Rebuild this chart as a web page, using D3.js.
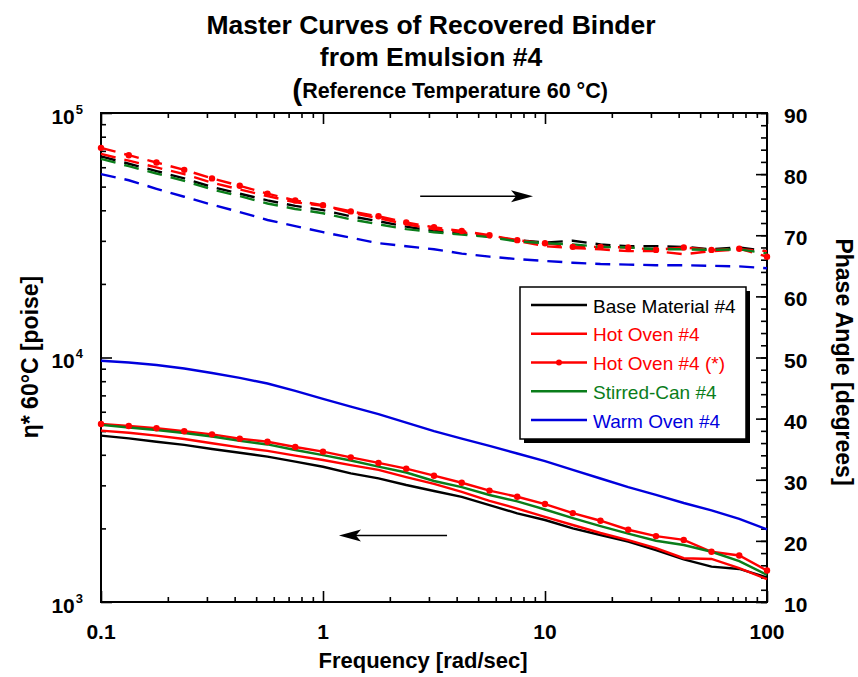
<!DOCTYPE html>
<html>
  <head>
    <style>
      body { margin: 0; background: #fff; }
      svg { font-family: "Liberation Sans", Arial, Helvetica, sans-serif; }
    </style>
  </head>
  <body>
    <svg></svg>
    <script src="https://d3js.org/d3.v7.min.js"></script>
    <script type="text/javascript">

      // frequencies [rad/sec], 8 points per decade
      var freq = [0.1, 0.1334, 0.1778, 0.2371, 0.3162, 0.4217, 0.5623, 0.7499, 1, 1.334, 1.778, 2.371,
                  3.162, 4.217, 5.623, 7.499, 10, 13.34, 17.78, 23.71, 31.62, 42.17, 56.23, 74.99, 100];

      // complex viscosity eta* at 60 C [poise]
      var baseEta    = [4790, 4670, 4525, 4390, 4225, 4080, 3930, 3750, 3575, 3360, 3205, 3010, 2845, 2690, 2490, 2305, 2165, 2000, 1880, 1765, 1630, 1495, 1395, 1365, 1260];
      var hotEta     = [5020, 4925, 4790, 4640, 4460, 4290, 4150, 3970, 3810, 3630, 3470, 3240, 3040, 2820, 2590, 2410, 2230, 2065, 1915, 1790, 1660, 1510, 1500, 1375, 1240];
      var hotStarEta = [5345, 5245, 5135, 4990, 4850, 4655, 4525, 4305, 4120, 3905, 3705, 3510, 3285, 3075, 2855, 2695, 2515, 2310, 2150, 1975, 1860, 1795, 1605, 1550, 1345];
      var stirredEta = [5300, 5170, 5050, 4910, 4750, 4560, 4410, 4185, 3990, 3790, 3580, 3385, 3125, 2950, 2740, 2580, 2390, 2205, 2045, 1905, 1780, 1710, 1605, 1470, 1290];
      var warmEta    = [9700, 9540, 9320, 9020, 8640, 8250, 7830, 7300, 6770, 6300, 5870, 5420, 5000, 4660, 4350, 4050, 3770, 3470, 3200, 2950, 2740, 2540, 2370, 2190, 1980];

      // phase angle [degrees]
      var basePhase    = [82.9, 81.7, 80.5, 79.3, 77.9, 76.8, 75.7, 74.8, 74.1, 73.1, 72.3, 71.4, 70.7, 70.3, 69.8, 69.2, 68.8, 69.1, 68.5, 68.2, 68.2, 68.1, 67.7, 68.0, 67.4];
      var hotPhase     = [83.3, 82.2, 81.1, 80.0, 78.6, 77.5, 76.4, 75.4, 74.8, 73.7, 72.8, 71.8, 71.0, 70.5, 69.9, 69.1, 68.2, 67.9, 67.7, 67.4, 67.4, 66.9, 67.4, 67.7, 67.4];
      var hotStarPhase = [84.3, 83.1, 81.9, 80.7, 79.3, 78.1, 76.8, 75.7, 74.9, 73.9, 73.1, 72.1, 71.3, 70.7, 70.0, 69.2, 68.7, 68.1, 68.1, 68.0, 67.6, 68.0, 67.6, 67.8, 66.5];
      var stirredPhase = [82.5, 81.3, 80.1, 78.9, 77.5, 76.4, 75.2, 74.3, 73.6, 72.6, 71.8, 71.0, 70.5, 70.1, 69.7, 69.0, 68.7, 68.5, 68.1, 68.0, 67.7, 67.7, 67.6, 67.7, 67.0];
      var warmPhase    = [80.0, 79.0, 77.6, 76.3, 75.0, 73.8, 72.5, 71.5, 70.5, 69.6, 68.7, 68.2, 67.7, 67.0, 66.5, 66.1, 65.8, 65.5, 65.3, 65.2, 65.1, 65.1, 65.0, 64.9, 64.6];

      var seriesNames = ["Base Material #4", "Hot Oven #4", "Hot Oven #4 (*)", "Stirred-Can #4", "Warm Oven #4"];
      var seriesColors = ["#000000", "#ff0000", "#ff0000", "#0a7d1a", "#0000dd"];

      var xTicks = [0.1, 1, 10, 100];
      var xTickLabels = ["0.1", "1", "10", "100"];
      var leftTicks = [1e3, 1e4, 1e5];
      var leftTickExp = ["3", "4", "5"];
      var rightTicks = [10, 20, 30, 40, 50, 60, 70, 80, 90];

      var svgWidth = 858, svgHeight = 677;
      var plot = { left: 101, right: 767, top: 113, bottom: 602 };

      var svg = d3.select("svg")
        .attr("width", svgWidth)
        .attr("height", svgHeight)

      var x = d3.scaleLog().domain([0.1, 100]).range([plot.left, plot.right])
      var yL = d3.scaleLog().domain([1e3, 1e5]).range([plot.bottom, plot.top])
      var yR = d3.scaleLinear().domain([10, 90]).range([plot.bottom, plot.top])

      // title
      var title = svg.append("g").attr("font-weight", "bold").attr("text-anchor", "middle")
      title.append("text").attr("x", 431).attr("y", 34).attr("font-size", 26.5).text("Master Curves of Recovered Binder")
      title.append("text").attr("x", 431).attr("y", 66).attr("font-size", 26.5).text("from Emulsion #4")
      var sub = title.append("text").attr("x", 450).attr("y", 100)
      sub.append("tspan").attr("font-size", 30).text("(")
      sub.append("tspan").attr("font-size", 21.5).attr("dy", -2).text("Reference Temperature 60 °C)")

      // minor + major ticks for the log axes
      var xMinor = x.ticks().filter(d => xTicks.indexOf(d) < 0)
      var yMinor = yL.ticks().filter(d => leftTicks.indexOf(d) < 0)

      var axes = svg.append("g")

      axes.append("g")
        .attr("transform", "translate(0," + plot.bottom + ")")
        .call(d3.axisBottom(x).tickValues(xMinor).tickSize(-5).tickFormat(""))
      axes.append("g")
        .attr("transform", "translate(0," + plot.bottom + ")")
        .call(d3.axisBottom(x).tickValues(xTicks).tickSize(-11).tickFormat(""))
      axes.append("g")
        .attr("transform", "translate(0," + plot.top + ")")
        .call(d3.axisTop(x).tickValues(xMinor).tickSize(-5).tickFormat(""))
      axes.append("g")
        .attr("transform", "translate(0," + plot.top + ")")
        .call(d3.axisTop(x).tickValues(xTicks).tickSize(-11).tickFormat(""))
      axes.append("g")
        .attr("transform", "translate(" + plot.left + ",0)")
        .call(d3.axisLeft(yL).tickValues(yMinor).tickSize(-5).tickFormat(""))
      axes.append("g")
        .attr("transform", "translate(" + plot.left + ",0)")
        .call(d3.axisLeft(yL).tickValues(leftTicks).tickSize(-11).tickFormat(""))
      axes.append("g")
        .attr("transform", "translate(" + plot.right + ",0)")
        .call(d3.axisRight(yR).tickValues(d3.range(10, 91, 2)).tickSize(-6).tickFormat(""))
      axes.append("g")
        .attr("transform", "translate(" + plot.right + ",0)")
        .call(d3.axisRight(yR).tickValues(rightTicks).tickSize(-11).tickFormat(""))

      axes.selectAll(".domain").remove()
      axes.selectAll(".tick line").attr("stroke", "#000").attr("stroke-width", 1.6)

      svg.append("rect")
        .attr("x", plot.left).attr("y", plot.top)
        .attr("width", plot.right - plot.left).attr("height", plot.bottom - plot.top)
        .attr("fill", "none").attr("stroke", "#000").attr("stroke-width", 2)

      // tick labels
      var labels = svg.append("g").attr("font-weight", "bold").attr("font-size", 21).attr("fill", "#000")

      labels.selectAll(".xl").data(xTicks).enter().append("text")
        .attr("x", d => x(d)).attr("y", plot.bottom + 37)
        .attr("text-anchor", "middle")
        .text((d, i) => xTickLabels[i])

      var ll = labels.selectAll(".yl").data(leftTicks).enter().append("text")
        .attr("x", 83).attr("y", d => yL(d) + 10.5)
        .attr("text-anchor", "end")
      ll.append("tspan").text("10")
      ll.append("tspan").attr("dy", -10).attr("dx", 1).attr("font-size", 13).text((d, i) => leftTickExp[i])

      labels.selectAll(".yr").data(rightTicks).enter().append("text")
        .attr("x", 784).attr("y", d => yR(d) + 10)
        .text(d => d)

      // axis titles
      var titles = svg.append("g").attr("font-weight", "bold").attr("font-size", 22).attr("text-anchor", "middle")
      titles.append("text").attr("x", 423).attr("y", 668).text("Frequency [rad/sec]")
      titles.append("text").attr("transform", "translate(38,357) rotate(-90)").attr("font-size", 23).text("η* 60°C [poise]")
      titles.append("text").attr("transform", "translate(836,362) rotate(90)").attr("font-size", 23).text("Phase Angle [degrees]")

      // curves
      var etaSeries = [baseEta, hotEta, hotStarEta, stirredEta, warmEta]
      var phaseSeries = [basePhase, hotPhase, hotStarPhase, stirredPhase, warmPhase]

      var lineEta = d3.line().x((d, i) => x(freq[i])).y(d => yL(d))
      var linePhase = d3.line().x((d, i) => x(freq[i])).y(d => yR(d))

      var curves = svg.append("g").attr("fill", "none")

      phaseSeries.forEach(function(s, k) {
        curves.append("path")
          .attr("d", linePhase(s))
          .attr("stroke", seriesColors[k])
          .attr("stroke-width", 2.4)
          .attr("stroke-dasharray", "15,9")
      })
      etaSeries.forEach(function(s, k) {
        curves.append("path")
          .attr("d", lineEta(s))
          .attr("stroke", seriesColors[k])
          .attr("stroke-width", 2.4)
      })

      // markers for Hot Oven #4 (*)
      svg.append("g").selectAll("circle").data(hotStarEta).enter().append("circle")
        .attr("cx", (d, i) => x(freq[i])).attr("cy", d => yL(d)).attr("r", 3.2).attr("fill", "#ff0000")
      svg.append("g").selectAll("circle").data(hotStarPhase).enter().append("circle")
        .attr("cx", (d, i) => x(freq[i])).attr("cy", d => yR(d)).attr("r", 3.2).attr("fill", "#ff0000")

      // arrows pointing to the axis each curve family belongs to
      function arrow(x1, x2, y) {
        var dir = x2 > x1 ? 1 : -1
        svg.append("line").attr("x1", x1).attr("x2", x2 - dir * 10).attr("y1", y).attr("y2", y)
          .attr("stroke", "#000").attr("stroke-width", 1.5)
        svg.append("path")
          .attr("d", "M" + x2 + "," + y + "L" + (x2 - dir * 22) + "," + (y - 6) + "L" + (x2 - dir * 17) + "," + y + "L" + (x2 - dir * 22) + "," + (y + 6) + "Z")
          .attr("fill", "#000")
      }
      arrow(x(2.74), x(8.83), yR(76.4))
      arrow(x(3.62), x(1.18), yL(1870))

      // legend
      var lg = svg.append("g").attr("transform", "translate(520,287)")
      lg.append("rect").attr("x", 4).attr("y", 4).attr("width", 226).attr("height", 152).attr("fill", "#000")
      lg.append("rect").attr("width", 226).attr("height", 152).attr("fill", "#fff").attr("stroke", "#000").attr("stroke-width", 1.5)

      var items = lg.selectAll(".item").data(seriesNames).enter().append("g")
        .attr("transform", (d, i) => "translate(0," + (18 + i * 28.75) + ")")
      items.append("line").attr("x1", 11).attr("x2", 67)
        .attr("stroke", (d, i) => seriesColors[i]).attr("stroke-width", 2.4)
      items.filter((d, i) => i == 2).append("circle").attr("cx", 39).attr("r", 3).attr("fill", "#ff0000")
      items.append("text").attr("x", 73).attr("y", 7.5).attr("font-size", 19)
        .attr("fill", (d, i) => seriesColors[i]).text(d => d)

    </script>
  </body>
</html>
